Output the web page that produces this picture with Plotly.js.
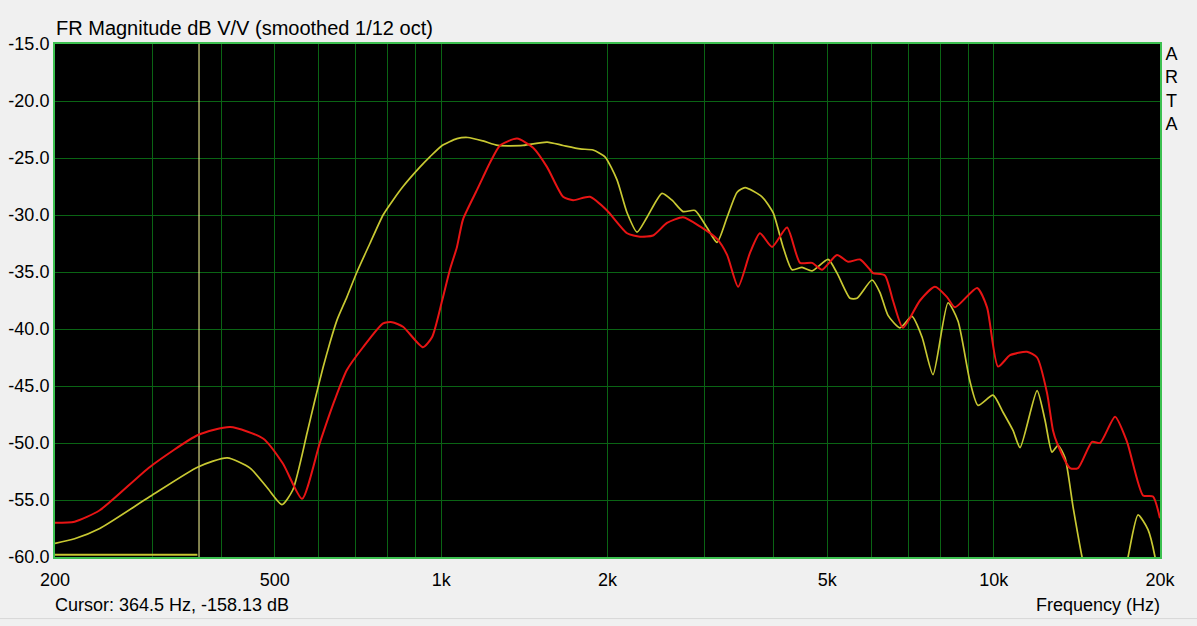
<!DOCTYPE html>
<html>
<head>
<meta charset="utf-8">
<script src="https://cdn.plot.ly/plotly-3.0.1.min.js"></script>
<style>
html,body{margin:0;padding:0;background:#f0f0f0;}
#chart{width:1197px;height:626px;}
</style>
</head>
<body>
<div id="chart"></div>
<script>
// Red curve (Hz, dB)
const redFreq = [200,217,241,297,363,415,476,517,560,603,642,675,722,785,815,853,927,963,1004,1037,1068,1095,1161,1190,1226,1278,1372,1467,1555,1662,1733,1859,1996,2170,2290,2418,2563,2740,2940,3157,3292,3447,3623,3776,3971,4227,4462,4691,4891,5206,5450,5729,5973,6047,6356,6571,6851,7356,7830,8233,8511,9330,9727,10183,10706,11491,11982,12489,12804,13021,13747,14213,15068,15580,16584,17433,18634,19424,20000];
const redDb = [-57.0,-56.9,-55.9,-52.1,-49.3,-48.6,-49.6,-51.8,-54.9,-50.0,-46.2,-43.6,-41.6,-39.5,-39.4,-39.8,-41.6,-40.7,-37.5,-34.8,-32.8,-30.4,-27.8,-26.7,-25.4,-23.9,-23.3,-24.1,-25.8,-28.4,-28.7,-28.4,-29.6,-31.6,-31.9,-31.8,-30.7,-30.2,-31.0,-32.1,-33.5,-36.3,-33.3,-31.6,-32.8,-31.1,-34.2,-34.2,-34.8,-33.5,-34.1,-33.9,-34.8,-35.1,-35.3,-37.5,-39.9,-37.5,-36.3,-37.2,-38.1,-36.4,-38.1,-43.3,-42.3,-42.0,-42.5,-45.6,-48.9,-50.0,-52.2,-52.2,-49.9,-50.0,-47.7,-49.9,-54.6,-54.7,-56.6];

// Yellow curve (Hz, dB)
const yelFreq = [200,217,241,297,363,410,451,484,515,539,572,591,611,629,648,675,704,743,785,818,853,915,954,1004,1068,1118,1190,1267,1407,1555,1662,1784,1883,1979,2080,2170,2262,2358,2510,2617,2740,2880,3027,3157,3292,3433,3548,3808,3988,4157,4315,4499,4691,5015,5206,5495,5658,6023,6226,6437,6766,7113,7418,7766,8267,8618,9060,9369,9973,10397,10840,11161,11982,12386,12751,13076,13464,13920,14452,15068,16584,17506,18252,19026,19590,20000];
const yelDb = [-58.8,-58.4,-57.5,-54.7,-52.1,-51.3,-52.2,-53.9,-55.4,-54.1,-49.1,-46.2,-43.4,-41.2,-39.2,-37.2,-35.0,-32.5,-30.0,-28.7,-27.5,-25.8,-24.9,-23.9,-23.3,-23.2,-23.5,-23.9,-23.9,-23.6,-23.9,-24.2,-24.3,-24.9,-26.9,-29.8,-31.5,-30.2,-28.1,-28.7,-29.7,-29.6,-31.1,-32.4,-30.2,-28.0,-27.6,-28.4,-29.8,-32.8,-34.8,-34.6,-34.9,-33.9,-35.1,-37.3,-37.3,-35.7,-36.8,-38.8,-39.9,-38.9,-40.7,-44.0,-37.7,-39.3,-44.6,-46.7,-45.8,-47.3,-48.9,-50.4,-45.4,-48.0,-50.8,-50.2,-51.3,-55.6,-60.0,-64.0,-66.0,-60.0,-56.3,-57.6,-60.0,-63.0];

// Cursor
const cursorFreq = 364.5;
const cursorLevelFreq = [200, 362];
const cursorLevelDb = [-59.8, -59.8];

// Axis ticks
const gridFreqs = [200,300,400,500,600,700,800,900,1000,2000,3000,4000,5000,6000,7000,8000,9000,10000,20000];
const gridLabels = ['200','','','500','','','','','1k','2k','','','5k','','','','','10k','20k'];
const dbTicks = [-60,-55,-50,-45,-40,-35,-30,-25,-20,-15];
const dbLabels = ['-60.0','-55.0','-50.0','-45.0','-40.0','-35.0','-30.0','-25.0','-20.0','-15.0'];

const FONT = 'Liberation Sans, Arial, sans-serif';

const traces = [
  {x:[cursorFreq,cursorFreq], y:[-60,-15], mode:'lines', line:{color:'#ffff9a', width:1}, hoverinfo:'skip'},
  {x:cursorLevelFreq, y:cursorLevelDb, mode:'lines', line:{color:'#c8c832', width:2}, hoverinfo:'skip'},
  {x:yelFreq, y:yelDb, mode:'lines', line:{color:'#c8c832', width:1.7, shape:'spline', smoothing:0.6}},
  {x:redFreq, y:redDb, mode:'lines', line:{color:'#e81414', width:2, shape:'spline', smoothing:0.6}}
];

const layout = {
  width:1197, height:626,
  paper_bgcolor:'#f0f0f0', plot_bgcolor:'#000000',
  margin:{l:55, r:37, t:44, b:69},
  showlegend:false,
  font:{family:FONT, size:18, color:'#000'},
  xaxis:{
    type:'log', range:[Math.log10(200), Math.log10(20000)],
    tickvals:gridFreqs, ticktext:gridLabels,
    showgrid:true, gridcolor:'#0a6414', gridwidth:1,
    zeroline:false, showline:true, linecolor:'#3cc050', linewidth:2, mirror:true,
    ticks:'', ticklabelstandoff:5, tickfont:{family:FONT, size:18, color:'#000'}
  },
  yaxis:{
    range:[-60,-15], tickvals:dbTicks, ticktext:dbLabels,
    showgrid:true, gridcolor:'#0a6414', gridwidth:1,
    zeroline:false, showline:true, linecolor:'#3cc050', linewidth:2, mirror:true,
    ticks:'', tickfont:{family:FONT, size:18, color:'#000'}
  },
  annotations:[
    {text:'FR Magnitude dB V/V (smoothed 1/12 oct)', xref:'paper', yref:'paper', x:0, y:1, xanchor:'left', yanchor:'middle', yshift:16, xshift:-1, showarrow:false, font:{family:FONT, size:20, color:'#000'}},
    {text:'A<br>R<br>T<br>A', xref:'paper', yref:'paper', x:1, y:1, xanchor:'left', yanchor:'top', xshift:3, yshift:2, showarrow:false, font:{family:FONT, size:18, color:'#000'}},
    {text:'Cursor: 364.5 Hz, -158.13 dB', xref:'paper', yref:'paper', x:0, y:0, xanchor:'left', yanchor:'middle', yshift:-48, xshift:-2, showarrow:false, font:{family:FONT, size:18, color:'#000'}},
    {text:'Frequency (Hz)', xref:'paper', yref:'paper', x:1, y:0, xanchor:'right', yanchor:'middle', yshift:-48, xshift:2, showarrow:false, font:{family:FONT, size:18, color:'#000'}}
  ],
  shapes:[
    {type:'line', xref:'paper', yref:'paper', x0:-0.06, x1:1.04, y0:-0.12, y1:-0.12, line:{color:'#d8d8d8', width:1}}
  ]
};

Plotly.newPlot('chart', traces, layout, {displayModeBar:false, staticPlot:true});
</script>
</body>
</html>
